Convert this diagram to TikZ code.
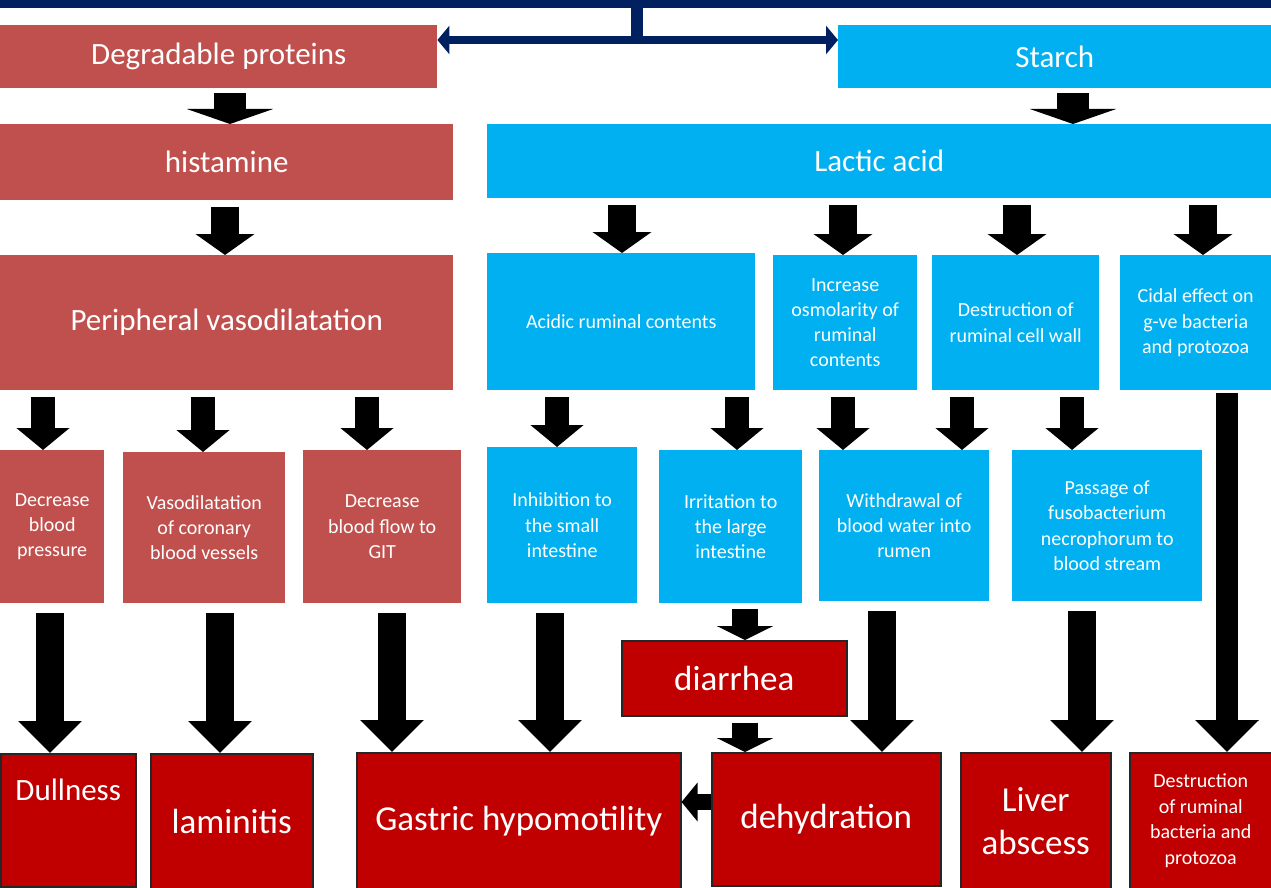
\documentclass[tikz,border=0pt]{standalone}
\usepackage{fontspec}
\setmainfont{Carlito}
\usetikzlibrary{arrows.meta}
\definecolor{lred}{HTML}{C0504D}
\definecolor{cblue}{HTML}{00B0F0}
\definecolor{dred}{HTML}{C00000}
\definecolor{navy}{HTML}{002060}
\newcommand\bx[7]{\node[#1, minimum width=#5pt, minimum height=#6pt] (#2) at (#3,#4) {#7};}
\begin{document}
\begin{tikzpicture}[x=1pt,y=-1pt,
  box/.style={anchor=north west, inner sep=2pt, text=white, align=center},
  rbox/.style={box, fill=lred},
  bbox/.style={box, fill=cblue},
  dbox/.style={box, fill=dred, draw=black!85, line width=1.5pt},
  big/.style={font=\fontsize{31}{37}\selectfont},
  huge/.style={font=\fontsize{35}{42}\selectfont},
  small/.style={font=\fontsize{20}{25.3}\selectfont},
  arrA/.style={draw=black, line width=32pt, shorten <=5pt, -{Triangle[width=86pt,length=15pt]}},
  arrB/.style={draw=black, line width=28pt, shorten <=7pt, -{Triangle[width=58pt,length=21pt]}},
  arrC/.style={draw=black, line width=24pt, shorten <=7pt, -{Triangle[width=52pt,length=22pt]}},
  arrD/.style={draw=black, line width=28pt, shorten <=10pt, -{Triangle[width=62pt,length=32pt]}},
  arrE/.style={draw=black, line width=26pt, shorten <=6pt, -{Triangle[width=56pt,length=14pt]}},
  arrF/.style={draw=black, line width=16pt, -{Triangle[width=38pt,length=16pt]}},
  navyline/.style={draw=navy, line width=8pt},
]
\useasboundingbox (0,0) rectangle (1271,888);
% top navy bar
\fill[navy] (0,0) rectangle (1271,8);
% row 1
\bx{rbox,big}{deg}{0}{25}{437}{63}{Degradable proteins}
\bx{bbox,big}{starch}{838}{25}{433}{63}{Starch}
\coordinate (stem) at (637,0);
\draw[navy, line width=12pt] (stem) -- (637,40);
\draw[navyline, {Triangle[width=28pt,length=12pt]}-{Triangle[width=28pt,length=12pt]}] (deg.east |- 0,40) -- (starch.west |- 0,40);
% row 2
\bx{rbox,big}{hist}{0}{124}{453}{76}{histamine}
\bx{bbox,big}{lact}{487}{124}{784}{74}{Lactic acid}
% row 3
\bx{rbox,big}{per}{0}{255}{453}{135}{Peripheral vasodilatation}
\bx{bbox,small}{acid}{487}{253}{268}{137}{Acidic ruminal contents}
\bx{bbox,small}{osm}{773}{255}{144}{135}{Increase\\osmolarity of\\ruminal\\contents}
\bx{bbox,small}{destr}{932}{255}{167}{135}{Destruction of\\ruminal cell wall}
\bx{bbox,small}{cidal}{1120}{255}{151}{135}{Cidal effect on\\g-ve bacteria\\and protozoa}
% row 4
\bx{rbox,small}{decbp}{0}{450}{104}{153}{Decrease\\blood\\pressure}
\bx{rbox,small}{vaso}{123}{452}{162}{151}{Vasodilatation\\of coronary\\blood vessels}
\bx{rbox,small}{decfl}{303}{450}{158}{153}{Decrease\\blood flow to\\GIT}
\bx{bbox,small}{inhib}{487}{447}{150}{156}{Inhibition to\\the small\\intestine}
\bx{bbox,small}{irrit}{659}{450}{143}{153}{Irritation to\\the large\\intestine}
\bx{bbox,small}{withd}{819}{450}{170}{151}{Withdrawal of\\blood water into\\rumen}
\bx{bbox,small}{pass}{1012}{450}{190}{151}{Passage of\\fusobacterium\\necrophorum to\\blood stream}
% diarrhea
\bx{dbox,huge}{diarr}{621}{640}{225}{75}{diarrhea}
% row 6
\node[dbox, minimum width=135pt, minimum height=133pt,
  label={[anchor=north, text=white, font=\fontsize{31}{37}\selectfont, yshift=-22pt]north:Dullness}] (dull) at (0,753) {};
\bx{dbox,huge}{lam}{150}{753}{162}{135}{laminitis}
\bx{dbox,huge}{gas}{356}{752}{324}{136}{Gastric hypomotility}
\bx{dbox,huge}{deh}{711}{752}{229}{133}{dehydration}
\node[dbox, minimum width=150pt, minimum height=136pt, font=\fontsize{35}{43}\selectfont] (liver) at (960,752) {Liver\\abscess};
\node[dbox, minimum width=142pt, minimum height=136pt, font=\fontsize{20}{25.8}\selectfont] (desb) at (1129,752) {Destruction\\of ruminal\\bacteria and\\protozoa};
% arrows row1->row2
\draw[arrA] (deg.south -| 230,0) -- (hist.north -| 230,0);
\draw[arrA] (starch.south -| 1073,0) -- (lact.north -| 1073,0);
% row2 -> row3
\draw[arrB] (hist.south -| 225,0) -- (per.north -| 225,0);
\draw[arrB] (lact.south -| 622,0) -- (acid.north -| 622,0);
\draw[arrB] (lact.south -| 843,0) -- (osm.north -| 843,0);
\draw[arrB] (lact.south -| 1017,0) -- (destr.north -| 1017,0);
\draw[arrB] (lact.south -| 1203,0) -- (cidal.north -| 1203,0);
% row3 -> row4
\draw[arrC] (per.south -| 43,0) -- (decbp.north -| 43,0);
\draw[arrC] (per.south -| 203,0) -- (vaso.north -| 203,0);
\draw[arrC] (per.south -| 367,0) -- (decfl.north -| 367,0);
\draw[arrC] (acid.south -| 557,0) -- (inhib.north -| 557,0);
\draw[arrC] (acid.south -| 737,0) -- (irrit.north -| 737,0);
\draw[arrC] (osm.south -| 843,0) -- (withd.north -| 843,0);
\draw[arrC] (destr.south -| 962,0) -- (withd.north -| 962,0);
\draw[arrC] (destr.south -| 1072,0) -- (pass.north -| 1072,0);
% row4 -> row6
\draw[arrD] (decbp.south -| 50,0) -- (dull.north -| 50,0);
\draw[arrD] (vaso.south -| 220,0) -- (lam.north -| 220,0);
\draw[arrD] (decfl.south -| 392,0) -- (gas.north -| 392,0);
\draw[arrD] (inhib.south -| 550,0) -- (gas.north -| 550,0);
\draw[arrD] (withd.south -| 882,0) -- (deh.north -| 882,0);
\draw[arrD] (pass.south -| 1082,0) -- (liver.north -| 1082,0);
\draw[arrD, line width=22pt, shorten <=3pt] (cidal.south -| 1227,0) -- (desb.north -| 1227,0);
% diarrhea arrows
\draw[arrE] (irrit.south -| 745,0) -- (diarr.north -| 745,0);
\draw[arrE] (diarr.south -| 745,0) -- (deh.north -| 745,0);
\draw[arrF] (deh.west |- 0,802) -- (gas.east |- 0,802);
\end{tikzpicture}
\end{document}
